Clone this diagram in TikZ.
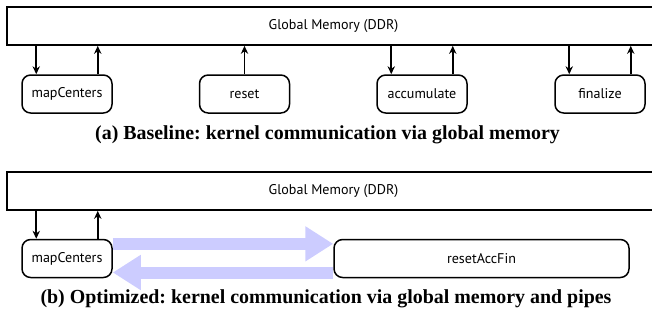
\documentclass[tikz,border=0pt]{standalone}
\usepackage{fontspec}
\setmainfont{Liberation Serif}
\setsansfont{PT Sans}
\usetikzlibrary{positioning,arrows.meta}
\frenchspacing

\begin{document}
\begin{tikzpicture}[
    x=0.3mm, y=-0.3mm,
    mem/.style={
        draw,
        line width=0.5mm,
        minimum width=196mm,
        minimum height=11.4mm,
        inner sep=0pt,
        font=\sffamily\fontsize{12}{14}\selectfont
    },
    kernel/.style={
        draw,
        line width=0.45mm,
        rounded corners=2.6mm,
        align=center,
        minimum width=27mm,
        minimum height=11.4mm,
        inner sep=0pt,
        font=\sffamily\fontsize{12}{14}\selectfont
    },
    arrow/.style={
        -{Stealth[length=2.4mm,width=2.2mm]},
        line width=0.55mm
    },
    pipe/.style={
        -{Triangle[length=8.4mm,width=10mm]},
        line width=3.6mm,
        draw=blue!20
    },
    caption/.style={
        font=\bfseries\fontsize{17}{20}\selectfont
    }
]
\useasboundingbox (0,0) rectangle (652,326);
\clip (0,0) rectangle (652,326);

% (a) baseline
\node[mem] (gmA) at (333.5,26) {Global Memory (DDR)};
\node[kernel] (mapA) at (67,94) {mapCenters};
\node[kernel] (resetA) at (244.5,94) {reset};
\node[kernel] (accA) at (422,94) {accumulate};
\node[kernel] (finA) at (600,94) {finalize};
\node[caption] (capA) at (327.5,135) {(a) Baseline: kernel communication via global memory};

\draw[arrow] ([xshift=4.5mm]mapA.north west |- gmA.south) -- ([xshift=4.5mm]mapA.north west);
\draw[arrow] ([xshift=-4.5mm]mapA.north east) -- ([xshift=-4.5mm]mapA.north east |- gmA.south);
\draw[arrow] (resetA.north) -- (resetA.north |- gmA.south);
\draw[arrow] ([xshift=4.5mm]accA.north west |- gmA.south) -- ([xshift=4.5mm]accA.north west);
\draw[arrow] ([xshift=-4.5mm]accA.north east) -- ([xshift=-4.5mm]accA.north east |- gmA.south);
\draw[arrow] ([xshift=4.5mm]finA.north west |- gmA.south) -- ([xshift=4.5mm]finA.north west);
\draw[arrow] ([xshift=-4.5mm]finA.north east) -- ([xshift=-4.5mm]finA.north east |- gmA.south);

% (b) optimized
\node[mem] (gmB) at (333.5,191) {Global Memory (DDR)};
\node[kernel] (mapB) at (67,258.5) {mapCenters};
\node[kernel, minimum width=88.5mm] (fused) at (481.5,258.5) {resetAccFin};
\node[caption] (capB) at (326,299) {(b) Optimized: kernel communication via global memory and pipes};

\draw[arrow] ([xshift=4.5mm]mapB.north west |- gmB.south) -- ([xshift=4.5mm]mapB.north west);
\draw[arrow] ([xshift=-4.5mm]mapB.north east) -- ([xshift=-4.5mm]mapB.north east |- gmB.south);

\draw[pipe] ([yshift=4.4mm]mapB.east) -- ([yshift=4.4mm]fused.west);
\draw[pipe] ([yshift=-4.2mm]fused.west) -- ([yshift=-4.2mm]mapB.east);

\end{tikzpicture}
\end{document}
